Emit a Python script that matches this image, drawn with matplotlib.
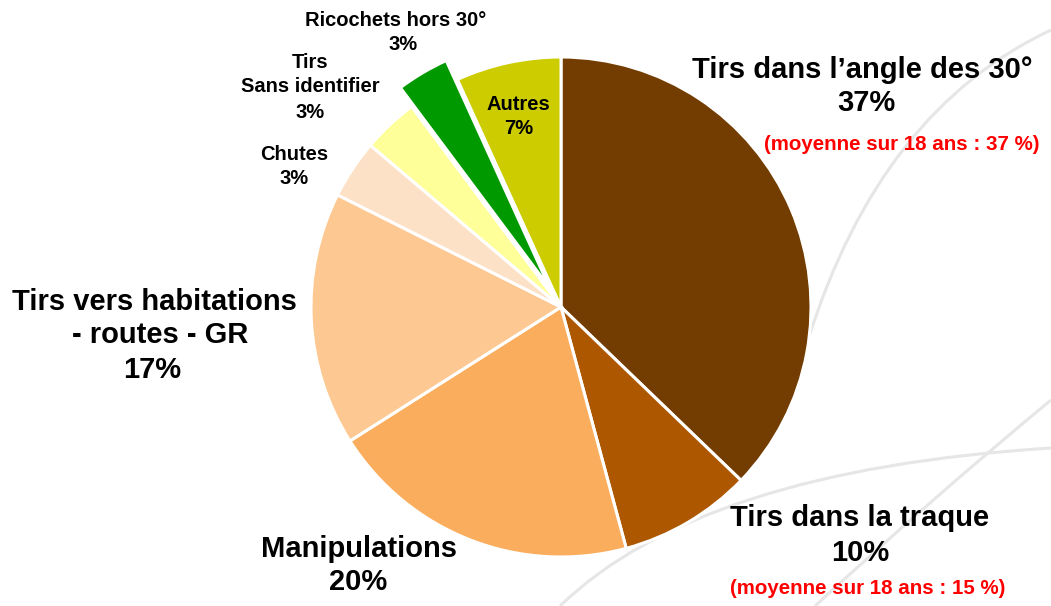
import matplotlib
matplotlib.use("Agg")
import matplotlib.pyplot as plt
from matplotlib.path import Path
from matplotlib.patches import PathPatch

# ---- data ----
categories = ["Tirs dans l’angle des 30°", "Tirs dans la traque", "Manipulations",
              "Tirs vers habitations - routes - GR", "Chutes", "Tirs Sans identifier",
              "Ricochets hors 30°", "Autres"]
shares = [37.2, 8.6, 20.2, 16.4, 3.8, 3.6, 3.4, 6.8]   # wedge sizes
pct_labels = ["37%", "10%", "20%", "17%", "3%", "3%", "3%", "7%"]
colors = ["#733C00", "#AD5700", "#FBAD5E", "#FDC891", "#FDE1C6", "#FFFF99", "#009900", "#CCCC00"]
explode = [0, 0, 0, 0, 0, 0, 22, 0]
avg_notes = {0: "(moyenne sur 18 ans : 37 %)", 1: "(moyenne sur 18 ans : 15 %)"}

W, H = 1051, 606
fig = plt.figure(figsize=(W / 100, H / 100), dpi=100)
ax = fig.add_axes([0, 0, 1, 1])
ax.set_xlim(0, W)
ax.set_ylim(0, H)
ax.set_aspect("equal")
ax.axis("off")

def Y(py):
    return H - py

# faint decorative background swooshes
deco = [
    [(808, 340), (880, 110), (1051, 30)],
    [(560, 606), (700, 470), (1051, 448)],
    [(815, 606), (930, 500), (1051, 400)],
]
for (p0, p1, p2) in deco:
    path = Path([(p0[0], Y(p0[1])), (p1[0], Y(p1[1])), (p2[0], Y(p2[1]))],
                [Path.MOVETO, Path.CURVE3, Path.CURVE3])
    ax.add_patch(PathPatch(path, fc="none", ec="#e6e6e6", lw=2.2, zorder=0))

ax.pie(shares, colors=colors, startangle=90, counterclock=False,
       center=(561, Y(307)), radius=250, explode=explode, frame=True,
       wedgeprops=dict(edgecolor="white", linewidth=2.2, zorder=2))
ax.set_xlim(0, W)
ax.set_ylim(0, H)
ax.axis("off")

FONT = "Liberation Sans"
BIG, SMALL, RED = 21, 14.5, 14.8

def txt(x, y, s, size, color="black"):
    ax.text(x, Y(y), s, fontsize=size, fontweight="bold", family=FONT,
            color=color, ha="center", va="center", zorder=5)

# Tirs dans l'angle
txt(862, 70, categories[0], BIG)
txt(866, 103, pct_labels[0], BIG)
txt(902, 144, avg_notes[0], RED, "#FF0000")
# Traque
txt(860, 518, categories[1], BIG)
txt(860, 553, pct_labels[1], BIG)
txt(868, 588, avg_notes[1], RED, "#FF0000")
# Manipulations
txt(359, 549, categories[2], BIG)
txt(358, 582, pct_labels[2], BIG)
# Habitations
txt(154, 302, "Tirs vers habitations", BIG)
txt(160, 335, "- routes - GR", BIG)
txt(152, 370, pct_labels[3], BIG)
# Chutes
txt(294, 154, categories[4], SMALL)
txt(294, 179, pct_labels[4], SMALL)
# Sans identifier
txt(310, 62, "Tirs", SMALL)
txt(310, 87, "Sans identifier", SMALL)
txt(310, 112, pct_labels[5], SMALL)
# Ricochets
txt(396, 20, categories[6], SMALL)
txt(403, 45, pct_labels[6], SMALL)
# Autres
txt(518, 105, categories[7], SMALL)
txt(519, 129, pct_labels[7], SMALL)

fig.savefig("out.png", dpi=100, facecolor="white")
